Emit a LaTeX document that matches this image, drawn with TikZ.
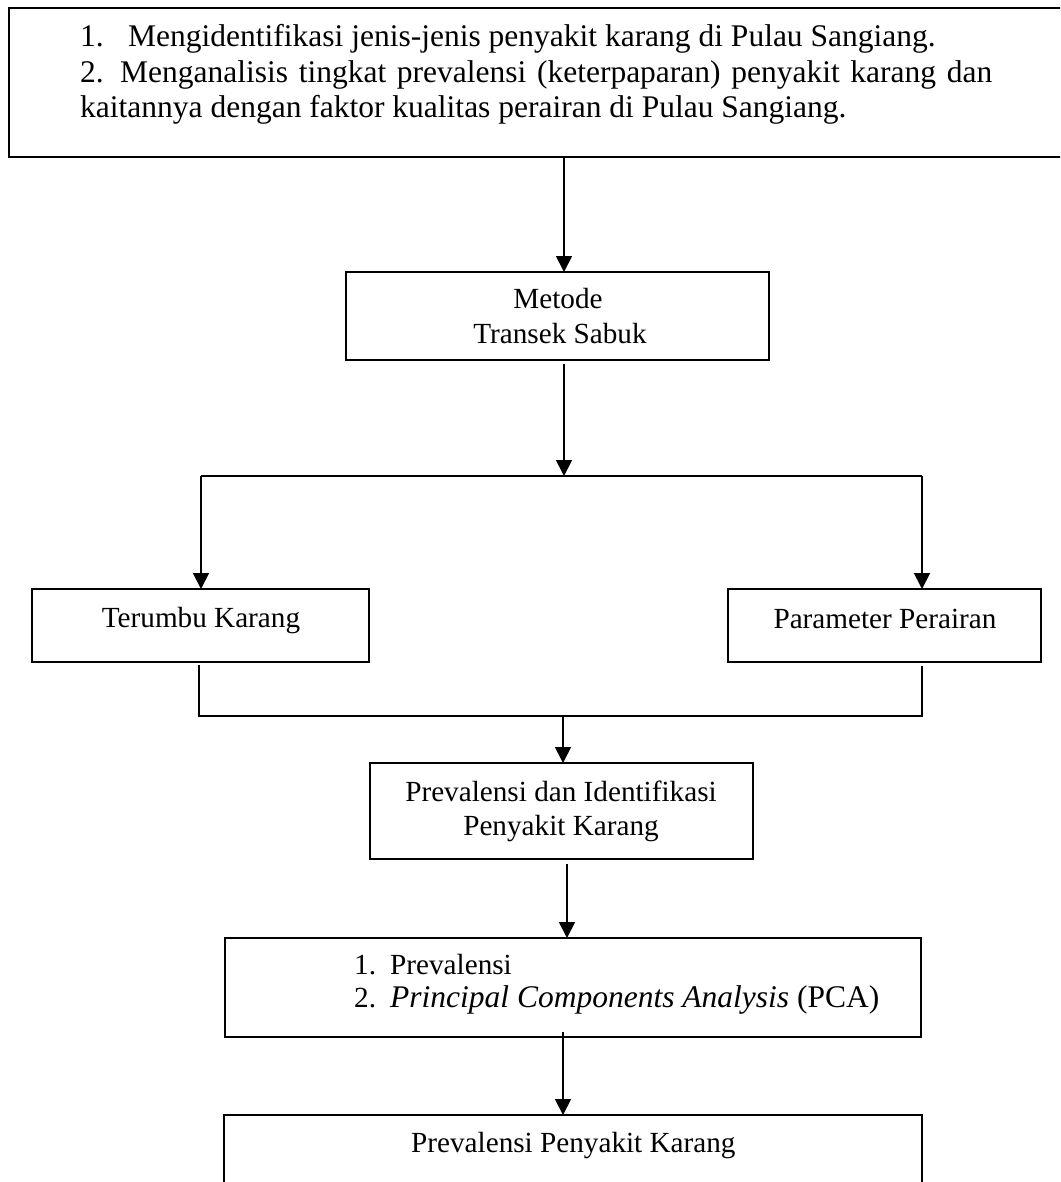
\documentclass[tikz,border=0pt]{standalone}
\usepackage{fontspec}
\setmainfont{Liberation Serif}
\usetikzlibrary{arrows.meta}
\begin{document}
\begin{tikzpicture}[x=1pt,y=-1pt,
  box/.style={draw, line width=1.6pt, rectangle, inner sep=0pt, outer sep=0pt},
  txt/.style={font=\fontsize{29.2}{34}\selectfont, inner sep=0pt, anchor=base},
  txtl/.style={txt, anchor=base west},
  big/.style={font=\fontsize{31.5}{36}\selectfont},
  arr/.style={line width=1.8pt, -{Triangle[width=16pt,length=16pt]}},
  ln/.style={line width=1.4pt}]
\useasboundingbox (0,0) rectangle (1060,1182);
\clip (0,0) rectangle (1060,1182);

% boxes
\node[box, minimum width=1066pt, minimum height=149pt] (top) at (542,82.5) {};
\node[box, minimum width=423pt, minimum height=88pt] (met) at (557.5,316) {};
\node[box, minimum width=337pt, minimum height=73pt] (ter) at (200.5,625.5) {};
\node[box, minimum width=313pt, minimum height=73pt] (par) at (884.5,625.5) {};
\node[box, minimum width=383pt, minimum height=96pt] (prev) at (561.5,811) {};
\node[box, minimum width=696pt, minimum height=99pt] (pca) at (573,987.5) {};
\node[box, minimum width=698pt, minimum height=170pt] (bot) at (573,1200) {};

% texts
\node[txtl, big] (t1) at (80,47) {\makebox[48pt][l]{1.}Mengidentifikasi jenis-jenis penyakit karang di Pulau Sangiang.};
\node[txtl, big] (t2) at (80,83) {\makebox[40pt][l]{2.}\makebox[872pt][s]{Menganalisis tingkat prevalensi (keterpaparan) penyakit karang dan}};
\node[txtl, big] (t3) at (80,118) {kaitannya dengan faktor kualitas perairan di Pulau Sangiang.};
\node[txt] (m1) at (558,308) {Metode};
\node[txt] (m2) at (560,343) {Transek Sabuk};
\node[txt] (tk) at (201,627) {Terumbu Karang};
\node[txt] (pp) at (885,628) {Parameter Perairan};
\node[txt] (pi1) at (561,801) {Prevalensi dan Identifikasi};
\node[txt] (pi2) at (561,835) {Penyakit Karang};
\node[txtl] (c1) at (354,974) {\makebox[36pt][l]{1.}Prevalensi};
\node[txtl] (c2) at (354,1007) {\makebox[36pt][l]{2.}{\fontsize{31.5}{36}\selectfont\textit{Principal Components Analysis} (PCA)}};
\node[txtl] (bt) at (411,1152) {Prevalensi Penyakit Karang};

% junction points
\coordinate (jL) at (201,476);
\coordinate (jR) at (922,476);
\coordinate (jM) at (564,476);
\coordinate (kL) at (199,716);
\coordinate (kR) at (922,716);
\coordinate (kM) at (563,716);
\coordinate (a2s) at (564,364);
\coordinate (a4s) at (567,864);
\coordinate (a5s) at (563,1032);
\coordinate (tbL) at (199,665);
\coordinate (tbR) at (922,666);

% connectors
\draw[arr] (564,0 |- top.south) -- (564,0 |- met.north);
\draw[arr] (a2s) -- (jM);
\draw[ln] (jL) -- (jR);
\draw[arr] (jL) -- (jL |- ter.north);
\draw[arr] (jR) -- (jR |- par.north);
\draw[ln] (tbL) -- (kL) -- (kR) -- (tbR);
\draw[arr] (kM) -- (kM |- prev.north);
\draw[arr] (a4s) -- (a4s |- pca.north);
\draw[arr] (a5s) -- (a5s |- bot.north);
\end{tikzpicture}
\end{document}
